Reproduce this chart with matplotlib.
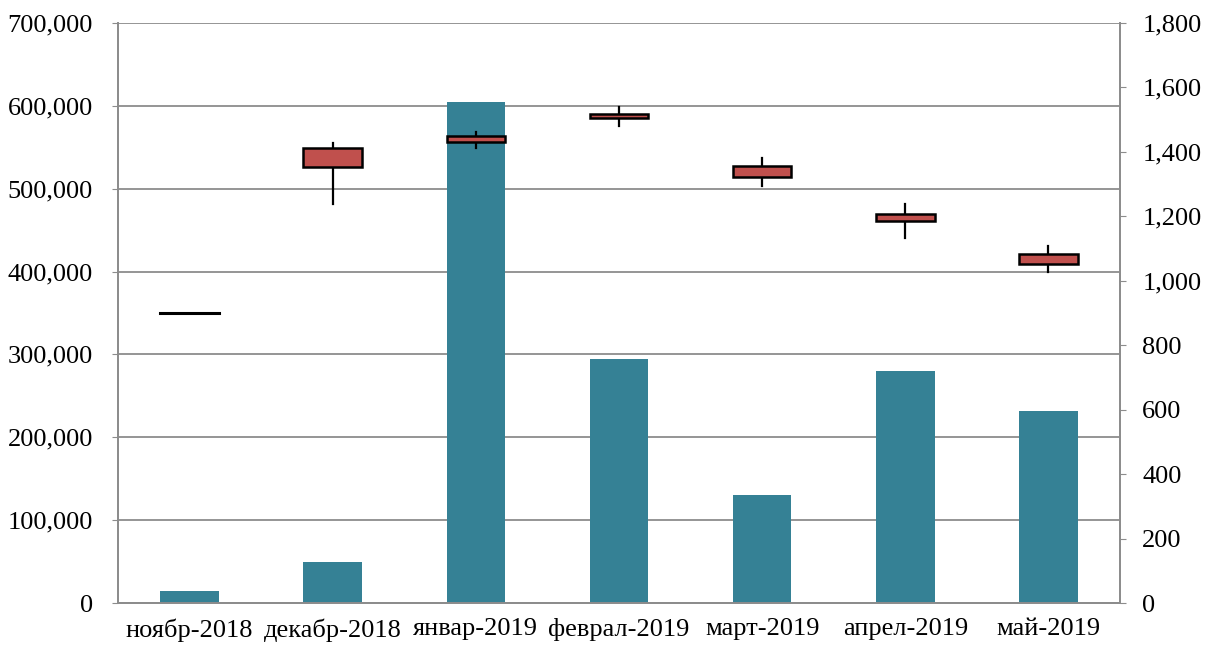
import matplotlib
matplotlib.use("Agg")
import matplotlib.pyplot as plt
from matplotlib.ticker import FuncFormatter, MultipleLocator
from matplotlib.patches import Rectangle

months = ["ноябр-2018", "декабр-2018", "январ-2019", "феврал-2019",
          "март-2019", "апрел-2019", "май-2019"]
volume = [14500, 50000, 605000, 294500, 130000, 280000, 231500]
price_open = [900, 1413, 1450, 1517, 1357, 1206, 1082]
price_close = [900, 1354, 1430, 1504, 1323, 1186, 1051]
price_high = [900, 1427, 1461, 1540, 1380, 1237, 1108]
price_low = [900, 1238, 1411, 1480, 1295, 1132, 1028]

plt.rcParams["font.family"] = ["Liberation Serif", "DejaVu Serif"]
fs = 19
grid_col = "#8c8c8c"
bar_col = "#358195"
candle_col = "#c0504d"

fig = plt.figure(figsize=(12.08, 6.48), dpi=100)
ax = fig.add_axes([118/1208, 1-603/648, (1120-118)/1208, (603-23)/648])
x = list(range(len(months)))
width = 0.41

ax.bar(x, volume, width=width, color=bar_col, zorder=2)
ax.set_ylim(0, 700000)
ax.set_xlim(-0.5, len(months) - 0.5)
ax.yaxis.set_major_locator(MultipleLocator(100000))
ax.yaxis.set_major_formatter(FuncFormatter(lambda v, p: f"{int(v):,}"))
ax.grid(axis="y", color=grid_col, linewidth=1.3, zorder=0)
ax.set_axisbelow(True)
ax.set_xticks(x)
ax.set_xticklabels(months, fontsize=fs)
ax.tick_params(axis="x", length=0, pad=11)
ax.tick_params(axis="y", direction="out", length=4, color=grid_col, labelsize=fs, pad=14)
ax.spines["top"].set_visible(False)
for s in ["left", "bottom", "right"]:
    ax.spines[s].set_color(grid_col)
    ax.spines[s].set_linewidth(1.3)

ax2 = ax.twinx()
ax2.set_ylim(0, 1800)
ax2.yaxis.set_major_locator(MultipleLocator(200))
ax2.yaxis.set_major_formatter(FuncFormatter(lambda v, p: f"{int(v):,}"))
ax2.tick_params(axis="y", direction="out", length=4, color=grid_col, labelsize=fs, pad=12)
ax2.spines["top"].set_visible(False)
for s in ["left", "bottom", "right"]:
    ax2.spines[s].set_color(grid_col)
    ax2.spines[s].set_linewidth(1.3)

for i in x:
    o, c, h, l = price_open[i], price_close[i], price_high[i], price_low[i]
    lo_b, hi_b = min(o, c), max(o, c)
    if h > l:
        ax2.plot([i, i], [l, h], color="black", linewidth=1.6, zorder=3)
    if hi_b > lo_b:
        ax2.add_patch(Rectangle((i - width / 2, lo_b), width, hi_b - lo_b,
                                facecolor=candle_col, edgecolor="black",
                                linewidth=1.8, zorder=4))
    else:
        ax2.plot([i - width / 2, i + width / 2], [o, o], color="black",
                 linewidth=2.2, zorder=4)

fig.savefig("out.png", dpi=100)
